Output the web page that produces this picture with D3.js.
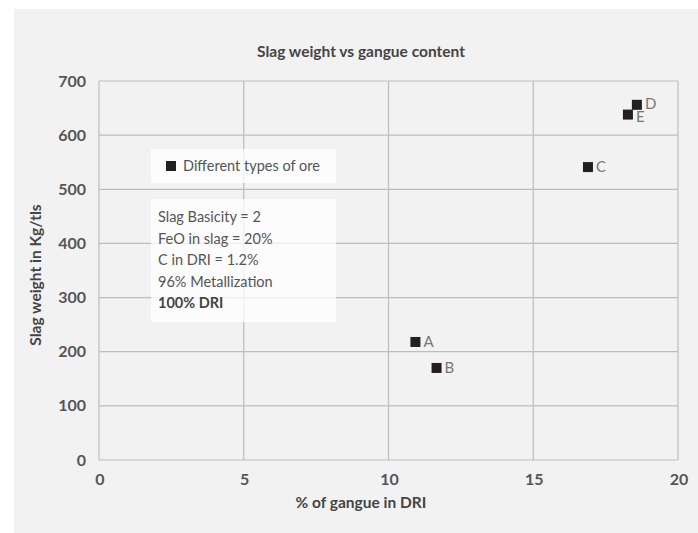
<!DOCTYPE html>
<html><head><meta charset="utf-8">
<script src="https://cdn.jsdelivr.net/npm/d3@7"></script>
<style>
html,body{margin:0;padding:0;background:#fff;}
svg{display:block;font-family:Lato, "Open Sans", sans-serif;}
</style></head>
<body>
<svg id="chart" width="698" height="533"></svg>
<script>
const labels = ["A","B","C","D","E"];
const gangue = [10.93, 11.66, 16.89, 18.58, 18.27];
const slag = [218, 170, 541, 656, 638];
const xTicks = [0,5,10,15,20];
const yTicks = [0,100,200,300,400,500,600,700];
const notes = ["Slag Basicity = 2","FeO in slag = 20%","C in DRI = 1.2%","96% Metallization","100% DRI"];
const legendLabel = "Different types of ore";

const svg = d3.select("#chart");
svg.append("rect").attr("x",14).attr("y",9).attr("width",684).attr("height",524).attr("fill","#f2f2f2");

const x = d3.scaleLinear().domain([0,20]).range([99,678]);
const y = d3.scaleLinear().domain([0,700]).range([460,81]);

const grid = svg.append("g");
grid.selectAll("line.v").data(xTicks).join("line")
  .attr("x1",d=>x(d)).attr("x2",d=>x(d)).attr("y1",y(0)).attr("y2",y(700))
  .attr("stroke","#bdbdbd").attr("stroke-width",1.2);
grid.selectAll("line.h").data(yTicks).join("line")
  .attr("y1",d=>y(d)).attr("y2",d=>y(d)).attr("x1",x(0)).attr("x2",x(20))
  .attr("stroke","#bdbdbd").attr("stroke-width",1.2);

svg.append("g").selectAll("text").data(yTicks).join("text")
  .attr("x",86).attr("y",d=>y(d)).attr("dy","0.35em").attr("text-anchor","end")
  .attr("font-size",16).attr("font-weight",700).attr("fill","#555").text(d=>d);
svg.append("g").selectAll("text").data(xTicks).join("text")
  .attr("x",d=>x(d)+1).attr("y",479).attr("dy","0.35em").attr("text-anchor","middle")
  .attr("font-size",16).attr("font-weight",700).attr("fill","#555").text(d=>d);

svg.append("text").attr("x",361).attr("y",57).attr("text-anchor","middle")
  .attr("font-size",15.5).attr("font-weight",700).attr("fill","#444").text("Slag weight vs gangue content");
svg.append("text").attr("x",361).attr("y",508).attr("text-anchor","middle")
  .attr("font-size",15.5).attr("font-weight",700).attr("fill","#444").text("% of gangue in DRI");
svg.append("text").attr("transform","translate(41,275) rotate(-90)").attr("text-anchor","middle")
  .attr("font-size",15.5).attr("font-weight",700).attr("fill","#444").text("Slag weight in Kg/tls");

// legend & annotation boxes
svg.append("rect").attr("x",151).attr("y",149).attr("width",185).attr("height",34).attr("fill","#fff").attr("opacity",0.75);
svg.append("rect").attr("x",166).attr("y",161).attr("width",10).attr("height",10).attr("fill","#231f20");
svg.append("text").attr("x",183).attr("y",166).attr("dy","0.35em").attr("font-size",14.5).attr("fill","#555").text(legendLabel);

svg.append("rect").attr("x",151).attr("y",199).attr("width",185).attr("height",123).attr("fill","#fff").attr("opacity",0.75);
svg.append("g").selectAll("text").data(notes).join("text")
  .attr("x",158).attr("y",(d,i)=>217+i*21.5).attr("dy","0.35em").attr("font-size",14.5)
  .attr("font-weight",(d,i)=>i===notes.length-1?700:400)
  .attr("fill",(d,i)=>i===notes.length-1?"#444":"#555").text(d=>d);

const pts = labels.map((l,i)=>({l, x:gangue[i], y:slag[i]}));
svg.append("g").selectAll("rect").data(pts).join("rect")
  .attr("x",d=>x(d.x)-5).attr("y",d=>y(d.y)-5).attr("width",10).attr("height",10).attr("fill","#231f20");
svg.append("g").selectAll("text").data(pts).join("text")
  .attr("x",d=>x(d.x)+8).attr("y",d=>y(d.y)+(d.l==="D"?-1:(d.l==="E"?2:0))).attr("dy","0.35em")
  .attr("font-size",15).attr("fill","#777").text(d=>d.l);
</script>
</body></html>
